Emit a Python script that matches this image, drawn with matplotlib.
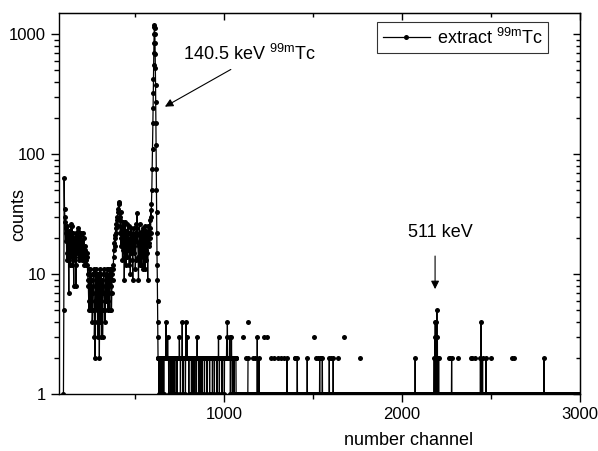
import numpy as np
import matplotlib
matplotlib.use("Agg")
import matplotlib.pyplot as plt
from matplotlib.ticker import FixedLocator, NullFormatter, LogLocator

plt.rcParams['font.family'] = ['Liberation Sans', 'DejaVu Sans']
plt.rcParams['mathtext.fontset'] = 'custom'
plt.rcParams['mathtext.rm'] = 'Liberation Sans'
plt.rcParams['mathtext.it'] = 'Liberation Sans:italic'

lead_ch = [95, 97, 99]
lead_cnt = [1, 5, 63]

# zona baja, cada 4 canales (dos series intercaladas)
region_a = [35, 27, 22, 15, 25, 18, 7, 20, 14, 26, 17, 12, 22, 8, 19, 14,
            8, 21, 15, 23, 13, 19, 16, 22, 13, 18, 14, 20, 12, 16, 13, 15]   # ch 101..225
region_a2 = [30, 19, 24, 13, 21, 16, 23, 12, 18, 15, 25, 19, 13, 20, 17, 22,
             12, 18, 24, 16, 20, 14, 21, 17, 19, 15, 22, 13, 17, 14, 12]     # ch 103..223
region_b = [12, 9, 6, 11, 7, 5, 10, 4, 8, 11, 3, 2, 9, 5, 10, 4, 8, 2, 11,
            6, 3, 9, 5, 11, 7, 4, 10, 6, 11, 5, 9, 7, 11, 8, 5, 10, 12]      # ch 229..373
region_b2 = [14, 10, 8, 5, 9, 11, 6, 9, 5, 7, 10, 4, 6, 11, 7, 3, 10, 6, 8,
             4, 10, 7, 3, 8, 10, 6, 5, 9, 7, 11, 6, 10, 5, 9, 11, 7, 9]      # ch 227..371
rise = [14, 18, 21, 26, 22, 30, 35, 40, 38]                                 # ch 377..409
rise2 = [11, 16, 20, 17, 24, 28, 25, 33, 39, 30]                            # ch 375..411
region_c = [28, 33, 20, 25, 16, 22, 9, 27, 18, 23, 14, 20, 25, 12, 19, 22,
            15, 21, 9, 24, 17, 20, 13, 26, 32, 18, 9, 22, 15, 21, 12, 19,
            24, 14, 20, 11, 23, 16, 21, 9, 25, 18, 28, 22]                  # ch 413..585
region_c2 = [22, 17, 24, 13, 27, 18, 14, 21, 12, 19, 26, 16, 22, 18, 10, 24,
             17, 13, 20, 15, 22, 11, 19, 24, 21, 14, 17, 26, 12, 18, 23, 15,
             11, 22, 17, 25, 13, 19, 15, 22, 17, 24, 20, 34]                # ch 415..587

# pico de 140.5 keV
peak_ch = [588, 590, 592, 594, 596, 598, 599, 600, 601, 602, 603, 604, 605,
           606, 607, 608, 609, 610, 611, 612, 613, 614, 615, 616, 617, 618,
           619, 620, 621, 622, 623, 624, 625, 626, 627]
peak_cnt = [30, 38, 50, 75, 110, 180, 240, 320, 420, 550, 700, 850, 1000,
            1150, 1200, 1120, 1000, 850, 680, 520, 380, 270, 180, 120, 75, 50,
            33, 22, 15, 12, 9, 6, 4, 3, 2]

# cola: 2 cuentas hasta ~1065, despues 1
tail_two_end = 1065
tail_drops = [632, 637, 645, 650, 659, 687, 697, 706, 715, 721, 734, 753, 768,
              781, 800, 815, 824, 833, 843, 856, 865, 874, 888, 903, 917, 933,
              944, 959, 972, 987, 1000, 1034, 1045, 1055]

spike_ch = [672, 681, 747, 763, 785, 790, 847, 967, 1013, 1017, 1030, 1040,
            1133, 1185, 1195, 1353, 1410, 1466, 1536, 1551, 1590, 1612, 2073,
            2180, 2183, 2186, 2189, 2192, 2195, 2198, 2201, 2205, 2278, 2440,
            2444, 2452, 2472, 2798]
spike_cnt = [4, 3, 3, 4, 4, 3, 3, 3, 3, 4, 3, 3, 2, 3, 2, 2, 2, 2, 2, 2, 2, 2,
             2, 2, 3, 4, 3, 4, 5, 3, 2, 2, 2, 2, 4, 2, 2, 2]

# puntos aislados (vecinos en cero)
dot_ch = [1107, 1120, 1135, 1160, 1170, 1225, 1240, 1262, 1280, 1300, 1318,
          1335, 1395, 1400, 1506, 1517, 1525, 1545, 1598, 1640, 1674, 1764,
          2264, 2270, 2315, 2388, 2395, 2410, 2500, 2618, 2628]
dot_cnt = [3, 2, 4, 2, 2, 3, 3, 2, 2, 2, 2, 2, 2, 2, 3, 2, 2, 2, 2, 2, 3, 2,
           2, 2, 2, 2, 2, 2, 2, 2, 2]

# --- armar el espectro ---
low_ch = np.concatenate([lead_ch,
                         np.arange(101, 226, 4), np.arange(103, 224, 4),
                         np.arange(229, 374, 4), np.arange(227, 372, 4),
                         np.arange(377, 410, 4), np.arange(375, 412, 4),
                         np.arange(413, 586, 4), np.arange(415, 588, 4)])
low_cnt = np.concatenate([lead_cnt, region_a, region_a2, region_b, region_b2,
                          rise, rise2, region_c, region_c2])
orden = np.argsort(low_ch)
low_ch = low_ch[orden]
low_cnt = low_cnt[orden]

tail_ch = np.arange(628, 3001)
tail_cnt = np.ones(len(tail_ch))
tail_cnt[tail_ch <= tail_two_end] = 2
for c in tail_drops:
    tail_cnt[c - 628] = 1
for c, n in zip(spike_ch, spike_cnt):
    tail_cnt[c - 628] = n
for c, n in zip(dot_ch, dot_cnt):
    tail_cnt[c - 628] = n
    tail_cnt[c - 629] = np.nan
    tail_cnt[c - 627] = np.nan

x = np.concatenate([low_ch, peak_ch, tail_ch])
y = np.concatenate([low_cnt, peak_cnt, tail_cnt]).astype(float)

fig = plt.figure(figsize=(5.98, 4.51), dpi=100)
ax = fig.add_axes([59 / 598, 1 - 394 / 451, 521 / 598, 381 / 451])

ax.plot(x, y, '-o', color='black', lw=0.9, ms=3.6, mew=0,
        label='extract $^{\\mathrm{99m}}$Tc')

ax.set_yscale('log')
ax.set_xlim(70, 3000)
ax.set_ylim(1, 1500)

ax.xaxis.set_major_locator(FixedLocator([1000, 2000, 3000]))
ax.xaxis.set_minor_locator(FixedLocator([500, 1500, 2500]))
ax.yaxis.set_major_locator(FixedLocator([1, 10, 100, 1000]))
ax.set_yticklabels(['1', '10', '100', '1000'])
ax.yaxis.set_minor_locator(LogLocator(base=10, subs=np.arange(2, 10)))
ax.yaxis.set_minor_formatter(NullFormatter())

ax.tick_params(which='both', direction='out', labelsize=12, width=1.0)
ax.tick_params(which='major', length=6)
ax.tick_params(which='minor', length=3.5)
for s in ax.spines.values():
    s.set_linewidth(1.0)

# ejes espejo con ticks hacia adentro
top = ax.secondary_xaxis('top')
top.xaxis.set_major_locator(FixedLocator([1000, 2000, 3000]))
top.xaxis.set_minor_locator(FixedLocator([500, 1500, 2500]))
top.tick_params(which='both', direction='in', labeltop=False, width=1.0)
top.tick_params(which='major', length=5)
top.tick_params(which='minor', length=3)
right = ax.secondary_yaxis('right')
right.yaxis.set_major_locator(FixedLocator([1, 10, 100, 1000]))
right.yaxis.set_minor_locator(LogLocator(base=10, subs=np.arange(2, 10)))
right.yaxis.set_minor_formatter(NullFormatter())
right.tick_params(which='both', direction='in', labelright=False, width=1.0)
right.tick_params(which='major', length=5)
right.tick_params(which='minor', length=3)

ax.set_xlabel('number channel', fontsize=13)
ax.set_ylabel('counts', fontsize=13)
ax.xaxis.set_label_coords(0.67, -0.1)
ax.yaxis.set_label_coords(-0.06, 0.47)

ax.annotate('', xy=(652, 242), xytext=(1050, 521),
            arrowprops=dict(arrowstyle='-|>', color='black', lw=0.8,
                            mutation_scale=12))
ax.text(770, 681, '140.5 keV $^{\\mathrm{99m}}$Tc', fontsize=13,
        ha='left', va='center')

ax.annotate('', xy=(2185, 7.1), xytext=(2185, 14.9),
            arrowprops=dict(arrowstyle='-|>', color='black', lw=0.8,
                            mutation_scale=12))
ax.text(2213, 22.4, '511 keV', fontsize=13, ha='center', va='center')

leg = ax.legend(loc='upper right', bbox_to_anchor=(0.9386, 0.976),
                fontsize=13, frameon=True, fancybox=False, handlelength=2.6,
                borderpad=0.3, handletextpad=0.4, borderaxespad=0)
leg.get_frame().set_edgecolor('black')
leg.get_frame().set_linewidth(0.8)

fig.savefig('out.png', dpi=100)
